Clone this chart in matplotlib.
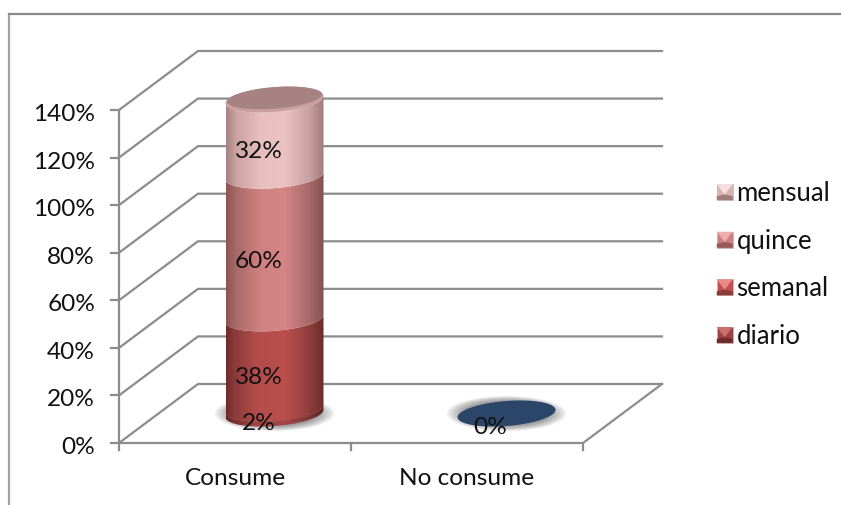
import numpy as np
import matplotlib
matplotlib.use("Agg")
import matplotlib.pyplot as plt
from matplotlib.colors import LinearSegmentedColormap
from matplotlib.legend_handler import HandlerBase
from matplotlib.patches import Ellipse, PathPatch, Polygon, Rectangle
from matplotlib.path import Path

plt.rcParams["font.family"] = ["Lato", "DejaVu Sans"]

categories = ["Consume", "No consume"]
series_names = ["diario", "semanal", "quince", "mensual"]
consume_values = [2, 38, 60, 32]
no_consume_value = 0
y_ticks = [0, 20, 40, 60, 80, 100, 120, 140]

W, H = 841, 505
X0, X1 = 119, 583      # front edge of the floor, pixels
Y0, Y140 = 443, 110    # front vertical axis, pixels
DX, DY = 79, 59        # depth of the oblique box, pixels
PX_CAT = (X1 - X0) / len(categories)
PX_PCT = (Y0 - Y140) / 140
DEPTH_X = DX / PX_CAT
DEPTH_Y = DY / PX_PCT
RX = 49 / PX_CAT       # cylinder semi-axes, category / percent units
RY = 12.5 / PX_PCT
TILT = 0.075           # rise of an ellipse's long axis

GREY = "#8c8c8c"
TEXT = "#111111"
FONT = 17.6
LEGEND_FONT = 18.5
GRID_LW = 1.6

fig = plt.figure(figsize=(W / 100, H / 100), dpi=100)
ax = fig.add_axes([0, 0, 1, 1])
ax.set_xlim(-X0 / PX_CAT, (W - X0) / PX_CAT)
ax.set_ylim(-(H - Y0) / PX_PCT, Y0 / PX_PCT)
ax.axis("off")

# outer chart frame, open on the right and at the bottom
ax.plot([8.5 / W, 8.5 / W], [0, 1 - 14 / H], transform=ax.transAxes,
        color="#a3a3a3", lw=1.6, zorder=1)
ax.plot([8.5 / W, 1], [1 - 14 / H, 1 - 14 / H], transform=ax.transAxes,
        color="#8a8a8a", lw=1.6, zorder=1)

n = len(categories)
# back wall gridlines with their oblique side-wall continuations
for t in y_ticks:
    ax.plot([0, DEPTH_X, n + DEPTH_X], [t, t + DEPTH_Y, t + DEPTH_Y],
            color=GREY, lw=GRID_LW, zorder=2, solid_joinstyle="miter")
    ax.plot([-8 / PX_CAT, 0], [t, t], color=GREY, lw=GRID_LW, zorder=2)
    ax.text(-24 / PX_CAT, t - 4.5 / PX_PCT, f"{t}%", ha="right", va="center",
            fontsize=FONT, color=TEXT)

# floor and axes
ax.plot([0, 0], [0, 140], color=GREY, lw=GRID_LW, zorder=2)
ax.plot([0, n, n + DEPTH_X], [0, 0, DEPTH_Y], color=GREY, lw=GRID_LW, zorder=2)
for i in range(n + 1):
    ax.plot([i, i], [0, -7 / PX_PCT], color=GREY, lw=GRID_LW, zorder=2)
for i, name in enumerate(categories):
    ax.text(i + 0.5, -35.5 / PX_PCT, name, ha="center", va="center", fontsize=FONT, color=TEXT)


def ellipse_xy(cx, cy, theta, sx=1.0, sy=1.0):
    """Tilted ellipse points in data units."""
    x = cx + sx * RX * np.cos(theta)
    y = cy + sy * RY * np.sin(theta) + TILT * (sx * RX * np.cos(theta)) * PX_CAT / PX_PCT
    return x, y


def soft_shadow(cx, cy, scale_x=1.22, scale_y=1.4):
    """Blurred grey halo made of stacked translucent ellipses."""
    for s in np.linspace(1.0, 0.55, 14):
        ax.add_patch(Ellipse((cx, cy), 2 * RX * scale_x * s, 2 * RY * scale_y * s,
                             facecolor="#404040", edgecolor="none", alpha=0.07, zorder=3))


def cylinder_segment(cx, base, top, stops, zorder):
    """One stacked segment: side surface with horizontal shading, clipped to its outline."""
    theta = np.linspace(np.pi, 2 * np.pi, 80)
    xb, yb = ellipse_xy(cx, base + DEPTH_Y / 2, theta)
    xt, yt = ellipse_xy(cx, top + DEPTH_Y / 2, theta[::-1])
    verts = np.column_stack([np.r_[xb, xt], np.r_[yb, yt]])
    clip = PathPatch(Path(np.vstack([verts, verts[0]]), closed=True), facecolor="none",
                     edgecolor="none", transform=ax.transData)
    ax.add_patch(clip)
    cmap = LinearSegmentedColormap.from_list("side", stops)
    grad = np.linspace(0, 1, 256).reshape(1, -1)
    img = ax.imshow(grad, cmap=cmap, aspect="auto", zorder=zorder,
                    extent=[cx - RX, cx + RX, base - 5, top + DEPTH_Y + 10],
                    interpolation="bilinear")
    img.set_clip_path(clip)


seg_stops = [
    [(0.0, "#5f2524"), (0.08, "#7c3331"), (0.3, "#9e4341"), (0.6, "#a54644"), (0.85, "#7f3634"), (1.0, "#5c2625")],
    [(0.0, "#6e2b2a"), (0.08, "#8a3a38"), (0.3, "#b24c4a"), (0.6, "#bb504e"), (0.85, "#8f3e3c"), (1.0, "#6a2c2b")],
    [(0.0, "#8a5554"), (0.1, "#a86a69"), (0.35, "#cf8080"), (0.6, "#d58585"), (0.85, "#a86a69"), (1.0, "#835150")],
    [(0.0, "#a58180"), (0.1, "#c9a2a1"), (0.35, "#e8bfbe"), (0.6, "#ebc3c2"), (0.85, "#c8a09f"), (1.0, "#a07c7b")],
]

cx0 = 0.5 + DEPTH_X / 2
soft_shadow(cx0, DEPTH_Y / 2)
base = 0
for k, (val, stops) in enumerate(zip(consume_values, seg_stops)):
    cylinder_segment(cx0, base, base + val, stops, 4 + k * 0.1)
    base += val

# top cap of the stack: pale bevelled rim around a darker face
theta = np.linspace(0, 2 * np.pi, 160)
xc, yc = ellipse_xy(cx0, base + DEPTH_Y / 2, theta)
ax.add_patch(Polygon(np.column_stack([xc, yc]), closed=True, facecolor="#c99f9e",
                     edgecolor="none", zorder=5))
xi, yi = ellipse_xy(cx0, base + DEPTH_Y / 2 + 1.6 / PX_PCT, theta, 0.97, 0.86)
ax.add_patch(Polygon(np.column_stack([xi, yi]), closed=True, facecolor="#a68382",
                     edgecolor="none", zorder=5.1))

# the empty series collapses to a flat disc on the floor
cx1 = 1.5 + DEPTH_X / 2
soft_shadow(cx1, no_consume_value + DEPTH_Y / 2)
xd, yd = ellipse_xy(cx1, no_consume_value + DEPTH_Y / 2, theta)
ax.add_patch(Polygon(np.column_stack([xd, yd]), closed=True, facecolor="#2b4669",
                     edgecolor="none", zorder=5))

# value labels, placed in pixel terms on the cylinder
label_px = [(259, 424), (259, 377), (259, 261), (259, 151)]
for val, (px, py) in zip(consume_values, label_px):
    ax.text((px - X0) / PX_CAT, (Y0 - py) / PX_PCT, f"{val}%", ha="center", va="center",
            fontsize=FONT, color=TEXT, zorder=8)
ax.text((490 - X0) / PX_CAT, (Y0 - 427) / PX_PCT, f"{no_consume_value}%", ha="center",
        va="center", fontsize=FONT, color=TEXT, zorder=8)


class BevelHandler(HandlerBase):
    """Small square key with shaded facets."""

    def create_artists(self, legend, orig, xd, yd, width, height, fontsize, trans):
        s = 11.5
        x0 = xd + width - s
        y0 = yd + (height - s) / 2
        tl, tr, br, bl = (x0, y0 + s), (x0 + s, y0 + s), (x0 + s, y0), (x0, y0)
        inner = (x0 + s / 2, y0 + s * 0.35)
        arts = [
            Polygon([tl, tr, br, bl], closed=True, facecolor=orig.get_facecolor(),
                    edgecolor="#c9b5b5", lw=0.6),
            Polygon([tl, tr, inner], closed=True, facecolor=orig.light, edgecolor="none"),
            Polygon([bl, br, (x0 + s, y0 + s * 0.25), inner, (x0, y0 + s * 0.25)], closed=True,
                    facecolor=orig.dark, edgecolor="none"),
        ]
        for a in arts:
            a.set_transform(trans)
        return arts


legend_styles = {
    "diario": ("#9b4341", "#c76f6d", "#6e2b2a"),
    "semanal": ("#c04f4d", "#ea8a88", "#8a3a38"),
    "quince": ("#cd7f7f", "#ecaeae", "#945b5a"),
    "mensual": ("#d9b3b2", "#f5e0e0", "#a07c7b"),
}
handles = []
for name in series_names[::-1]:
    base_c, light, dark = legend_styles[name]
    h = Rectangle((0, 0), 1, 1, facecolor=base_c)
    h.light, h.dark = light, dark
    handles.append(h)
leg = ax.legend(handles, series_names[::-1], handler_map={Rectangle: BevelHandler()},
                loc="center left", bbox_to_anchor=(707 / W, 1 - 265 / H),
                bbox_transform=ax.transAxes, frameon=False, fontsize=LEGEND_FONT,
                labelspacing=0.88, handlelength=1.0, handletextpad=0.15,
                borderpad=0, borderaxespad=0)
for t in leg.get_texts():
    t.set_color(TEXT)

fig.savefig("out.png", dpi=100)
